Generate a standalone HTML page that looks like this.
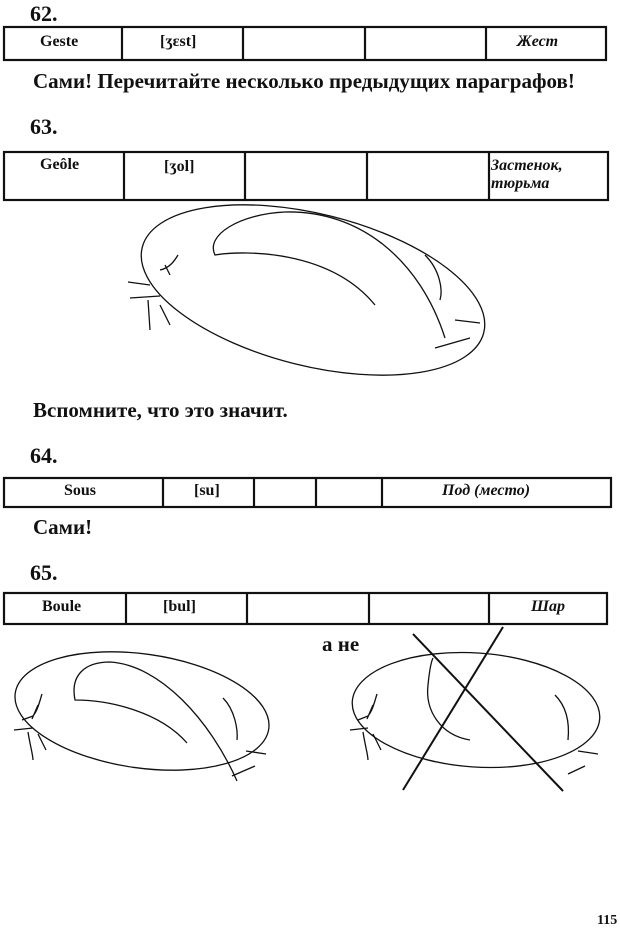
<!DOCTYPE html>
<html><head><meta charset="utf-8"><style>
body{margin:0;background:#fff;width:620px;height:933px;position:relative;overflow:hidden;font-family:"Liberation Serif",serif;color:#111}
.t{position:absolute;font-weight:bold;white-space:nowrap}
.h{font-size:22px}
.s{font-size:21px}
.c{position:absolute;font-size:16px;font-weight:bold;white-space:nowrap}
.i{font-style:italic}
</style></head><body>
<svg width="620" height="933" style="position:absolute;left:0;top:0" fill="none" stroke="#111">
<g stroke-width="2.2">
<rect x="4" y="27" width="602" height="33"/>
<line x1="122" y1="27" x2="122" y2="60"/><line x1="243" y1="27" x2="243" y2="60"/><line x1="365" y1="27" x2="365" y2="60"/><line x1="486" y1="27" x2="486" y2="60"/>
<rect x="4" y="152" width="604" height="48"/>
<line x1="124" y1="152" x2="124" y2="200"/><line x1="245" y1="152" x2="245" y2="200"/><line x1="367" y1="152" x2="367" y2="200"/><line x1="489" y1="152" x2="489" y2="200"/>
<rect x="4" y="478" width="607" height="29"/>
<line x1="163" y1="478" x2="163" y2="507"/><line x1="254" y1="478" x2="254" y2="507"/><line x1="316" y1="478" x2="316" y2="507"/><line x1="382" y1="478" x2="382" y2="507"/>
<rect x="4" y="593" width="603" height="31"/>
<line x1="126" y1="593" x2="126" y2="624"/><line x1="247" y1="593" x2="247" y2="624"/><line x1="369" y1="593" x2="369" y2="624"/><line x1="489" y1="593" x2="489" y2="624"/>
</g>
<g stroke-width="1.3">
<ellipse cx="313" cy="290" rx="176" ry="76" transform="rotate(14 313 290)"/>
<path d="M445 338 C420 260 360 210 285 212 C240 214 205 235 215 255 C245 250 330 250 375 305"/>
<path d="M425 255 C440 270 443 290 440 300"/><path d="M455 320 L480 323"/><path d="M435 348 L470 338"/>
<path d="M160 270 C170 268 175 260 178 255 M170 275 L165 265 M150 285 L128 282 M130 298 L160 296 M148 300 C150 330 150 330 150 330 M160 305 L170 325"/>
<ellipse cx="142" cy="711" rx="128" ry="57" transform="rotate(8 142 711)"/>
<path d="M237 781 C210 720 160 665 110 662 C85 662 70 675 75 700 C110 700 160 712 187 743"/>
<path d="M223 698 C235 710 238 730 237 740"/><path d="M246 751 L266 754"/><path d="M232 776 L255 766"/>
<path d="M22 720 L33 716 M33 716 C38 710 40 700 42 694 M32 719 L38 705 M14 730 L33 728 M28 732 C30 745 33 755 33 760 M38 734 L46 750"/>
<ellipse cx="476" cy="710" rx="124" ry="57" transform="rotate(4 476 710)"/>
<path d="M428 685 C425 710 440 735 470 740 M428 685 C430 665 432 660 433 658"/>
<path d="M555 695 C565 705 570 720 568 740"/><path d="M578 751 L598 754"/><path d="M568 774 L585 766"/>
<path d="M358 720 L368 716 C373 710 375 700 377 694 M367 719 L373 705 M350 730 L368 728 M363 732 C365 745 368 755 368 760 M373 734 L381 750"/>
</g>
<g stroke-width="2">
<line x1="413" y1="634" x2="563" y2="791"/>
<line x1="503" y1="627" x2="403" y2="790"/>
</g>
</svg>
<div class="t h" style="left:30px;top:1px">62.</div>
<div class="c" style="left:40px;top:33px">Geste</div>
<div class="c" style="left:160px;top:33px">[ʒɛst]</div>
<div class="c i" style="left:517px;top:33px">Жест</div>
<div class="t s" style="left:33px;top:69px">Сами! Перечитайте несколько предыдущих параграфов!</div>
<div class="t h" style="left:30px;top:114px">63.</div>
<div class="c" style="left:40px;top:156px">Geôle</div>
<div class="c" style="left:164px;top:158px">[ʒol]</div>
<div class="c i" style="left:491px;top:157px;line-height:18px">Застенок,<br>тюрьма</div>
<div class="t s" style="left:33px;top:398px">Вспомните, что это значит.</div>
<div class="t h" style="left:30px;top:443px">64.</div>
<div class="c" style="left:64px;top:482px">Sous</div>
<div class="c" style="left:194px;top:482px">[su]</div>
<div class="c i" style="left:442px;top:482px">Под (место)</div>
<div class="t s" style="left:33px;top:515px">Сами!</div>
<div class="t h" style="left:30px;top:560px">65.</div>
<div class="c" style="left:42px;top:598px">Boule</div>
<div class="c" style="left:163px;top:598px">[bul]</div>
<div class="c i" style="left:531px;top:598px">Шар</div>
<div class="t s" style="left:322px;top:632px">а не</div>
<div class="t" style="left:597px;top:913px;font-size:14px">115</div>
</body></html>
